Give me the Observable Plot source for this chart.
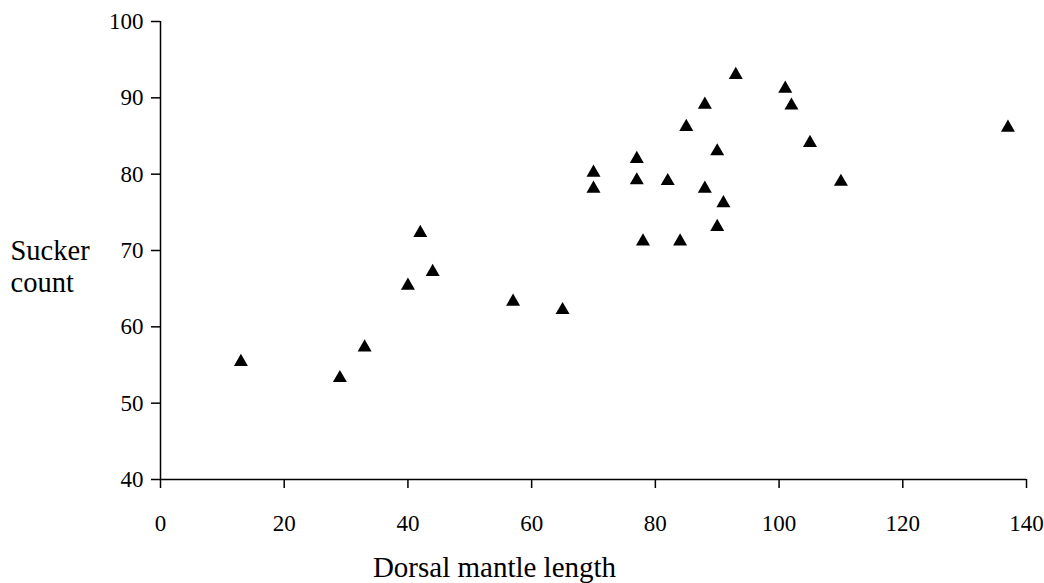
<!DOCTYPE html>
<html>
<head>
<meta charset="utf-8">
<script src="https://cdn.jsdelivr.net/npm/d3@7"></script>
<script src="https://cdn.jsdelivr.net/npm/@observablehq/plot@0.6"></script>
<style>
  html, body { margin: 0; padding: 0; background: #fff; }
  #chart svg { display: block; }
</style>
</head>
<body>
<div id="chart"></div>
<script>
const mantleLength = [13, 29, 33, 40, 42, 44, 57, 65, 70, 70, 77, 77, 78, 82, 84, 85, 88, 88, 90, 90, 91, 93, 101, 102, 105, 110, 137];
const suckerCount  = [55.4, 53.3, 57.3, 65.4, 72.3, 67.2, 63.3, 62.2, 80.2, 78.1, 82.0, 79.2, 71.2, 79.1, 71.2, 86.2, 78.1, 89.1, 83.0, 73.1, 76.2, 93.0, 91.2, 89.0, 84.1, 79.0, 86.1];
const xTicks = [0, 20, 40, 60, 80, 100, 120, 140];
const yTicks = [40, 50, 60, 70, 80, 90, 100];
const xTitle = "Dorsal mantle length";
const yTitle = "Sucker\ncount";

const data = mantleLength.map((x, i) => ({x, y: suckerCount[i]}));
const font = "'Liberation Serif', 'DejaVu Serif', serif";

const chart = Plot.plot({
  width: 1044,
  height: 583,
  marginLeft: 160,
  marginRight: 18,
  marginTop: 21,
  marginBottom: 104,
  style: {fontFamily: font, fontSize: "23px", color: "#000", background: "#fff"},
  x: {domain: [0, 140]},
  y: {domain: [40, 100]},
  marks: [
    Plot.ruleX([0], {stroke: "#000", strokeWidth: 1.5}),
    Plot.ruleY([40], {stroke: "#000", strokeWidth: 1.5}),
    Plot.axisX({ticks: xTicks, tickSize: 9, tickPadding: 26, label: null, fontSize: 23, stroke: "#000", strokeWidth: 1.5}),
    Plot.axisY({ticks: yTicks, tickSize: 9, tickPadding: 8, label: null, fontSize: 23, stroke: "#000", strokeWidth: 1.5}),
    Plot.dot(data, {x: "x", y: "y", symbol: "triangle", r: 5.2, fill: "#000", stroke: "none"}),
    Plot.text([xTitle], {frameAnchor: "bottom", dx: -99, dy: 97, fontSize: 29, fill: "#000"}),
    Plot.text([yTitle], {frameAnchor: "left", textAnchor: "start", dx: -150, dy: 15, fontSize: 28.5, lineHeight: 1.12, fill: "#000"})
  ]
});
document.getElementById("chart").append(chart);
</script>
</body>
</html>
